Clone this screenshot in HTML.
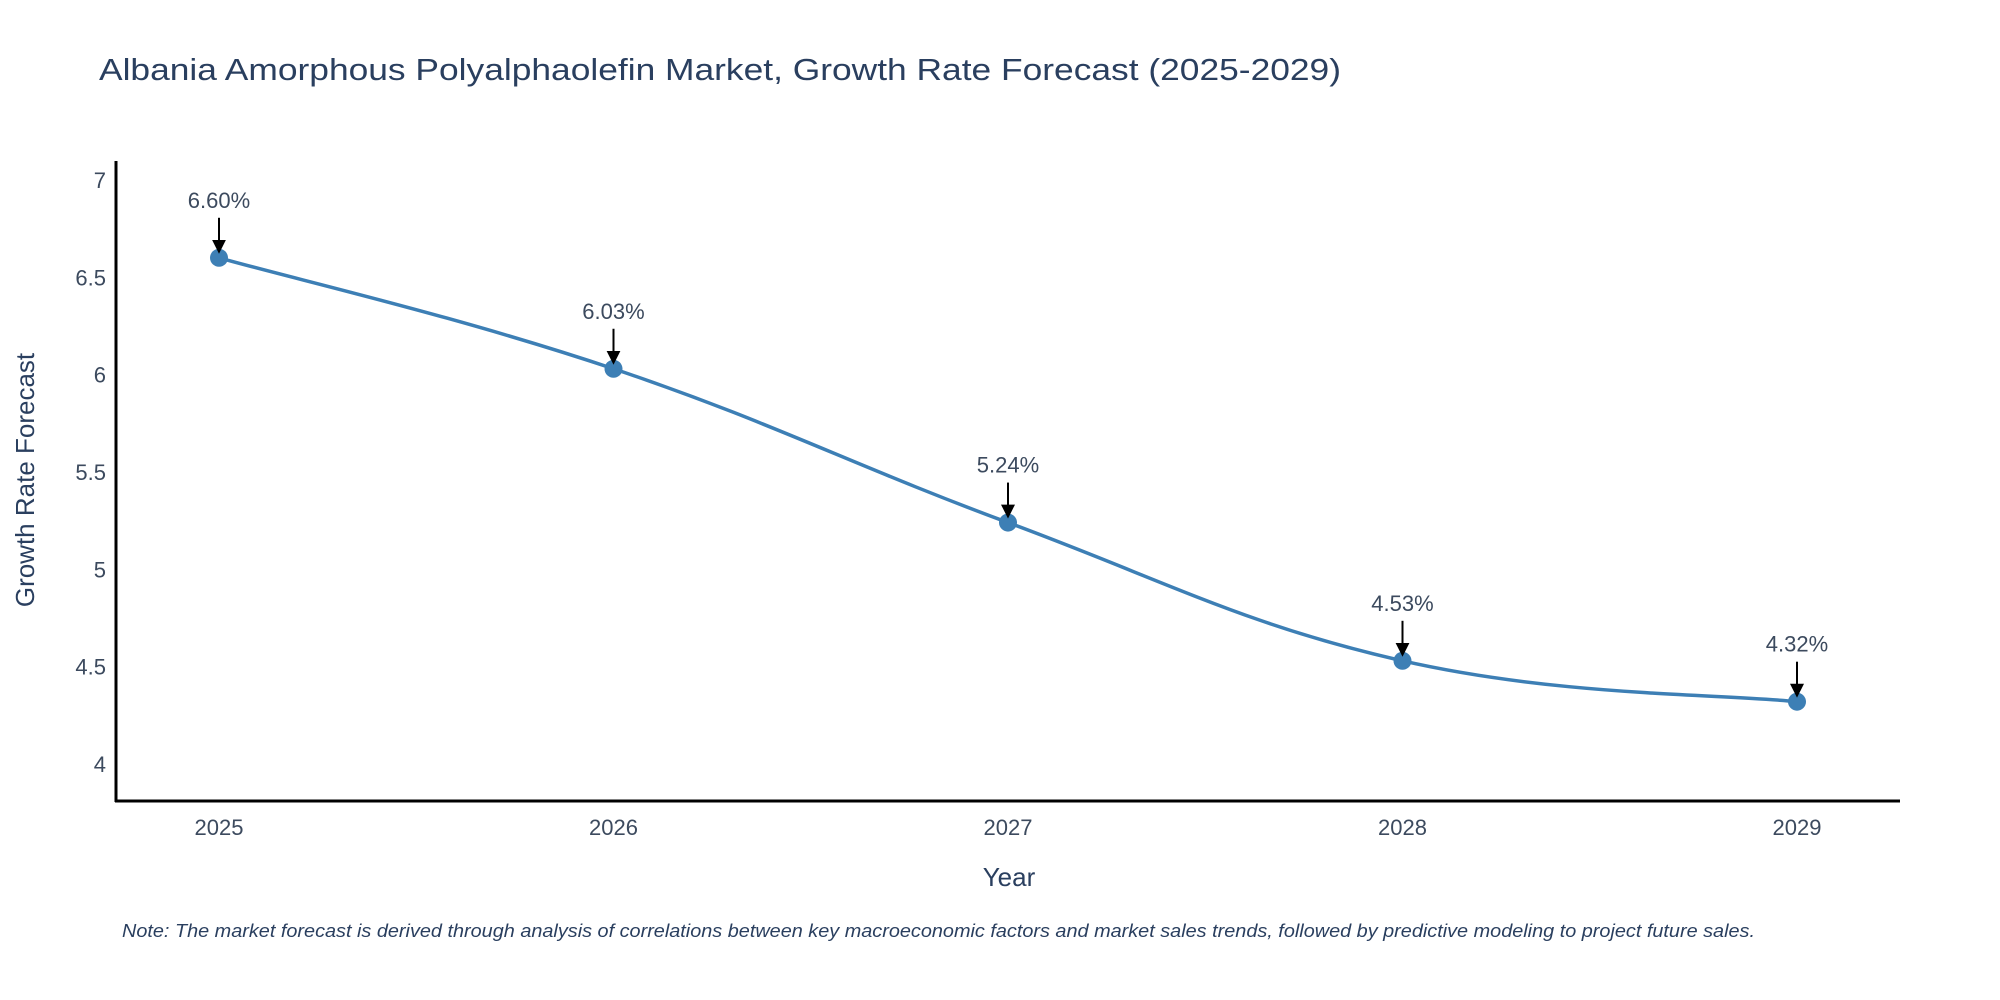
<!DOCTYPE html>
<html><head><meta charset="utf-8"><style>
body{margin:0;background:#fff;}
svg{display:block;font-family:"Liberation Sans",sans-serif;}
</style></head><body>
<svg id="chart" width="2000" height="1000">
<text x="99" y="80" font-size="31" fill="#2a3f5f" textLength="1242" lengthAdjust="spacingAndGlyphs">Albania Amorphous Polyalphaolefin Market, Growth Rate Forecast (2025-2029)</text>
<g id="yticks"></g>
<g id="xticks"></g>
<line x1="116" y1="161" x2="116" y2="802" stroke="#000" stroke-width="3"/>
<line x1="115" y1="801" x2="1900" y2="801" stroke="#000" stroke-width="3"/>
<path id="line" fill="none" stroke="#3d7fb5" stroke-width="3.5"/>
<g id="points"></g>
<text x="1009" y="886" font-size="26" fill="#2a3f5f" text-anchor="middle">Year</text>
<text transform="translate(34,480) rotate(-90)" font-size="26" fill="#2a3f5f" text-anchor="middle">Growth Rate Forecast</text>
<text x="122" y="937" font-size="18" font-style="italic" fill="#2a3f5f" textLength="1633" lengthAdjust="spacingAndGlyphs">Note: The market forecast is derived through analysis of correlations between key macroeconomic factors and market sales trends, followed by predictive modeling to project future sales.</text>
<defs><marker id="ah" markerWidth="7" markerHeight="7" refX="6" refY="3.5" orient="auto" markerUnits="strokeWidth"><path d="M0,0 L7,3.5 L0,7 z" fill="#000"/></marker></defs>
</svg>
<script>
const years = ["2025","2026","2027","2028","2029"];
const values = [6.60, 6.03, 5.24, 4.53, 4.32];
const labels = ["6.60%","6.03%","5.24%","4.53%","4.32%"];
const yTickVals = [4, 4.5, 5, 5.5, 6, 6.5, 7];
const yTickLabels = ["4","4.5","5","5.5","6","6.5","7"];

const NS = "http://www.w3.org/2000/svg";
function xs(i){ return 219 + i * 394.5; }
function ys(v){ return 764 - (v - 4) * 194.7; }
function mk(tag, attrs, parent){ const e=document.createElementNS(NS,tag); for(const k in attrs) e.setAttribute(k,attrs[k]); parent.appendChild(e); return e; }

const yg=document.getElementById('yticks');
yTickVals.forEach((v,i)=>{
  const t=mk('text',{x:106,y:ys(v)+8,'font-size':22,fill:'#3c4a5e','text-anchor':'end'},yg);
  
  
  t.textContent=yTickLabels[i];
});
const xg=document.getElementById('xticks');
years.forEach((y,i)=>{
  const t=mk('text',{x:xs(i),y:835,'font-size':22,fill:'#3c4a5e','text-anchor':'middle'},xg);
  
  
  t.textContent=y;
});

const pts=values.map((v,i)=>[xs(i),ys(v)]);
let d='M'+pts[0][0]+','+pts[0][1];
const s=0.2;
for(let i=0;i<pts.length-1;i++){
  const p0=pts[i-1]||pts[i], p1=pts[i], p2=pts[i+1], p3=pts[i+2]||p2;
  const c1=[p1[0]+(p2[0]-p0[0])*s, p1[1]+(p2[1]-p0[1])*s];
  const c2=[p2[0]-(p3[0]-p1[0])*s, p2[1]-(p3[1]-p1[1])*s];
  d+=' C'+c1+' '+c2+' '+p2;
}
document.getElementById('line').setAttribute('d',d);

const pg=document.getElementById('points');
pts.forEach((p,i)=>{
  const c=mk('circle',{cx:p[0],cy:p[1],r:9,fill:'#3d7fb5'},pg);
  
  
  const a=mk('line',{x1:p[0],y1:p[1]-40,x2:p[0],y2:p[1]-6,stroke:'#000','stroke-width':2,'marker-end':'url(#ah)'},pg);
  
  
  const t=mk('text',{x:p[0],y:p[1]-50,'font-size':22,fill:'#3c4a5e','text-anchor':'middle'},pg);
  
  
  t.textContent=labels[i];
});
</script>
</body></html>
